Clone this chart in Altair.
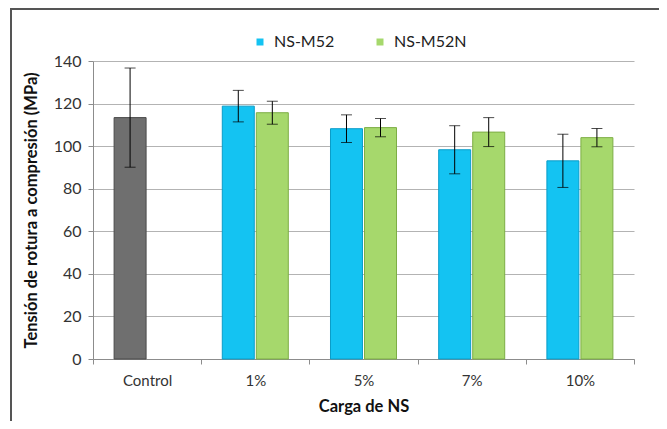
import altair as alt
import pandas as pd

categories = ["Control", "1%", "5%", "7%", "10%"]
series = ["NS-M52", "NS-M52N"]
m52_vals = [113.4, 118.8, 108.2, 98.3, 93.1]
m52_err = [23.3, 7.4, 6.5, 11.3, 12.5]
m52n_vals = [None, 115.7, 108.7, 106.6, 104.0]
m52n_err = [None, 5.4, 4.3, 6.8, 4.3]

rows = []
for i, c in enumerate(categories):
    grp = "Control" if c == "Control" else "NS-M52"
    rows.append(dict(cat=c, slot="NS-M52", grp=grp, value=m52_vals[i],
                     lo=m52_vals[i] - m52_err[i], hi=m52_vals[i] + m52_err[i]))
    if m52n_vals[i] is not None:
        rows.append(dict(cat=c, slot="NS-M52N", grp="NS-M52N", value=m52n_vals[i],
                         lo=m52n_vals[i] - m52n_err[i], hi=m52n_vals[i] + m52n_err[i]))
df = pd.DataFrame(rows)

FONT = "Lato"

x_enc = alt.X("cat:N", sort=categories,
              scale=alt.Scale(paddingInner=0, paddingOuter=0),
              axis=alt.Axis(title="Carga de NS", labelAngle=0, tickBand="extent",
                            labelPadding=9, titlePadding=10, tickSize=5,
                            domainColor="#8c8c8c", tickColor="#8c8c8c",
                            labelColor="#333333", labelFontSize=15,
                            titleFontSize=16.5, titleFontWeight="bold", titleColor="#111111"))
xoff = alt.XOffset("slot:N", scale=alt.Scale(domain=series, paddingInner=0.06, paddingOuter=0.62))
y_scale = alt.Scale(domain=[0, 140])

base = alt.Chart(df)

bars = base.mark_bar(strokeWidth=1).encode(
    x=x_enc,
    xOffset=xoff,
    y=alt.Y("value:Q", scale=y_scale,
            axis=alt.Axis(title="Tensión de rotura a compresión (MPa)", values=[0, 20, 40, 60, 80, 100, 120, 140],
                          tickSize=5, labelPadding=7, titlePadding=14,
                          domainColor="#8c8c8c", tickColor="#8c8c8c", gridColor="#b3b3b3",
                          labelColor="#333333", labelFontSize=16,
                          titleFontSize=16.5, titleFontWeight="bold", titleColor="#111111")),
    color=alt.Color("grp:N",
                    scale=alt.Scale(domain=["NS-M52", "NS-M52N", "Control"],
                                    range=["#14C3F2", "#A6D86C", "#6F6F6F"]),
                    legend=alt.Legend(title=None, values=["NS-M52", "NS-M52N"],
                                      orient="none", direction="horizontal",
                                      legendX=159, legendY=-27,
                                      symbolType="square", symbolSize=49,
                                      symbolStrokeWidth=0, labelFontSize=16,
                                      labelColor="#222222", columnPadding=37,
                                      labelOffset=6)),
    stroke=alt.Stroke("grp:N",
                      scale=alt.Scale(domain=["NS-M52", "NS-M52N", "Control"],
                                      range=["#0A9CC8", "#7DAE45", "#4A4A4A"]),
                      legend=None),
)

rule = base.mark_rule(color="black", strokeWidth=1).encode(
    x=alt.X("cat:N", sort=categories), xOffset=xoff,
    y=alt.Y("lo:Q", scale=y_scale), y2="hi:Q")
cap_hi = base.mark_tick(color="black", thickness=1, size=11).encode(
    x=alt.X("cat:N", sort=categories), xOffset=xoff, y=alt.Y("hi:Q", scale=y_scale))
cap_lo = base.mark_tick(color="black", thickness=1, size=11).encode(
    x=alt.X("cat:N", sort=categories), xOffset=xoff, y=alt.Y("lo:Q", scale=y_scale))

border = alt.Chart(pd.DataFrame({"a": [0]})).mark_rect(
    filled=False, stroke="#555555", strokeWidth=2).encode(
    x=alt.value(-82), x2=alt.value(567), y=alt.value(-52), y2=alt.value(400))

chart = alt.layer(bars, rule, cap_hi, cap_lo, border).properties(
    width=541, height=298,
    autosize=alt.AutoSizeParams(type="none"),
    padding={"left": 85, "top": 53, "right": 25, "bottom": 62},
).configure(font=FONT).configure_view(stroke=None).configure_axisX(grid=False)

chart.save("out.html", embed_options={"renderer": "svg", "actions": False})
